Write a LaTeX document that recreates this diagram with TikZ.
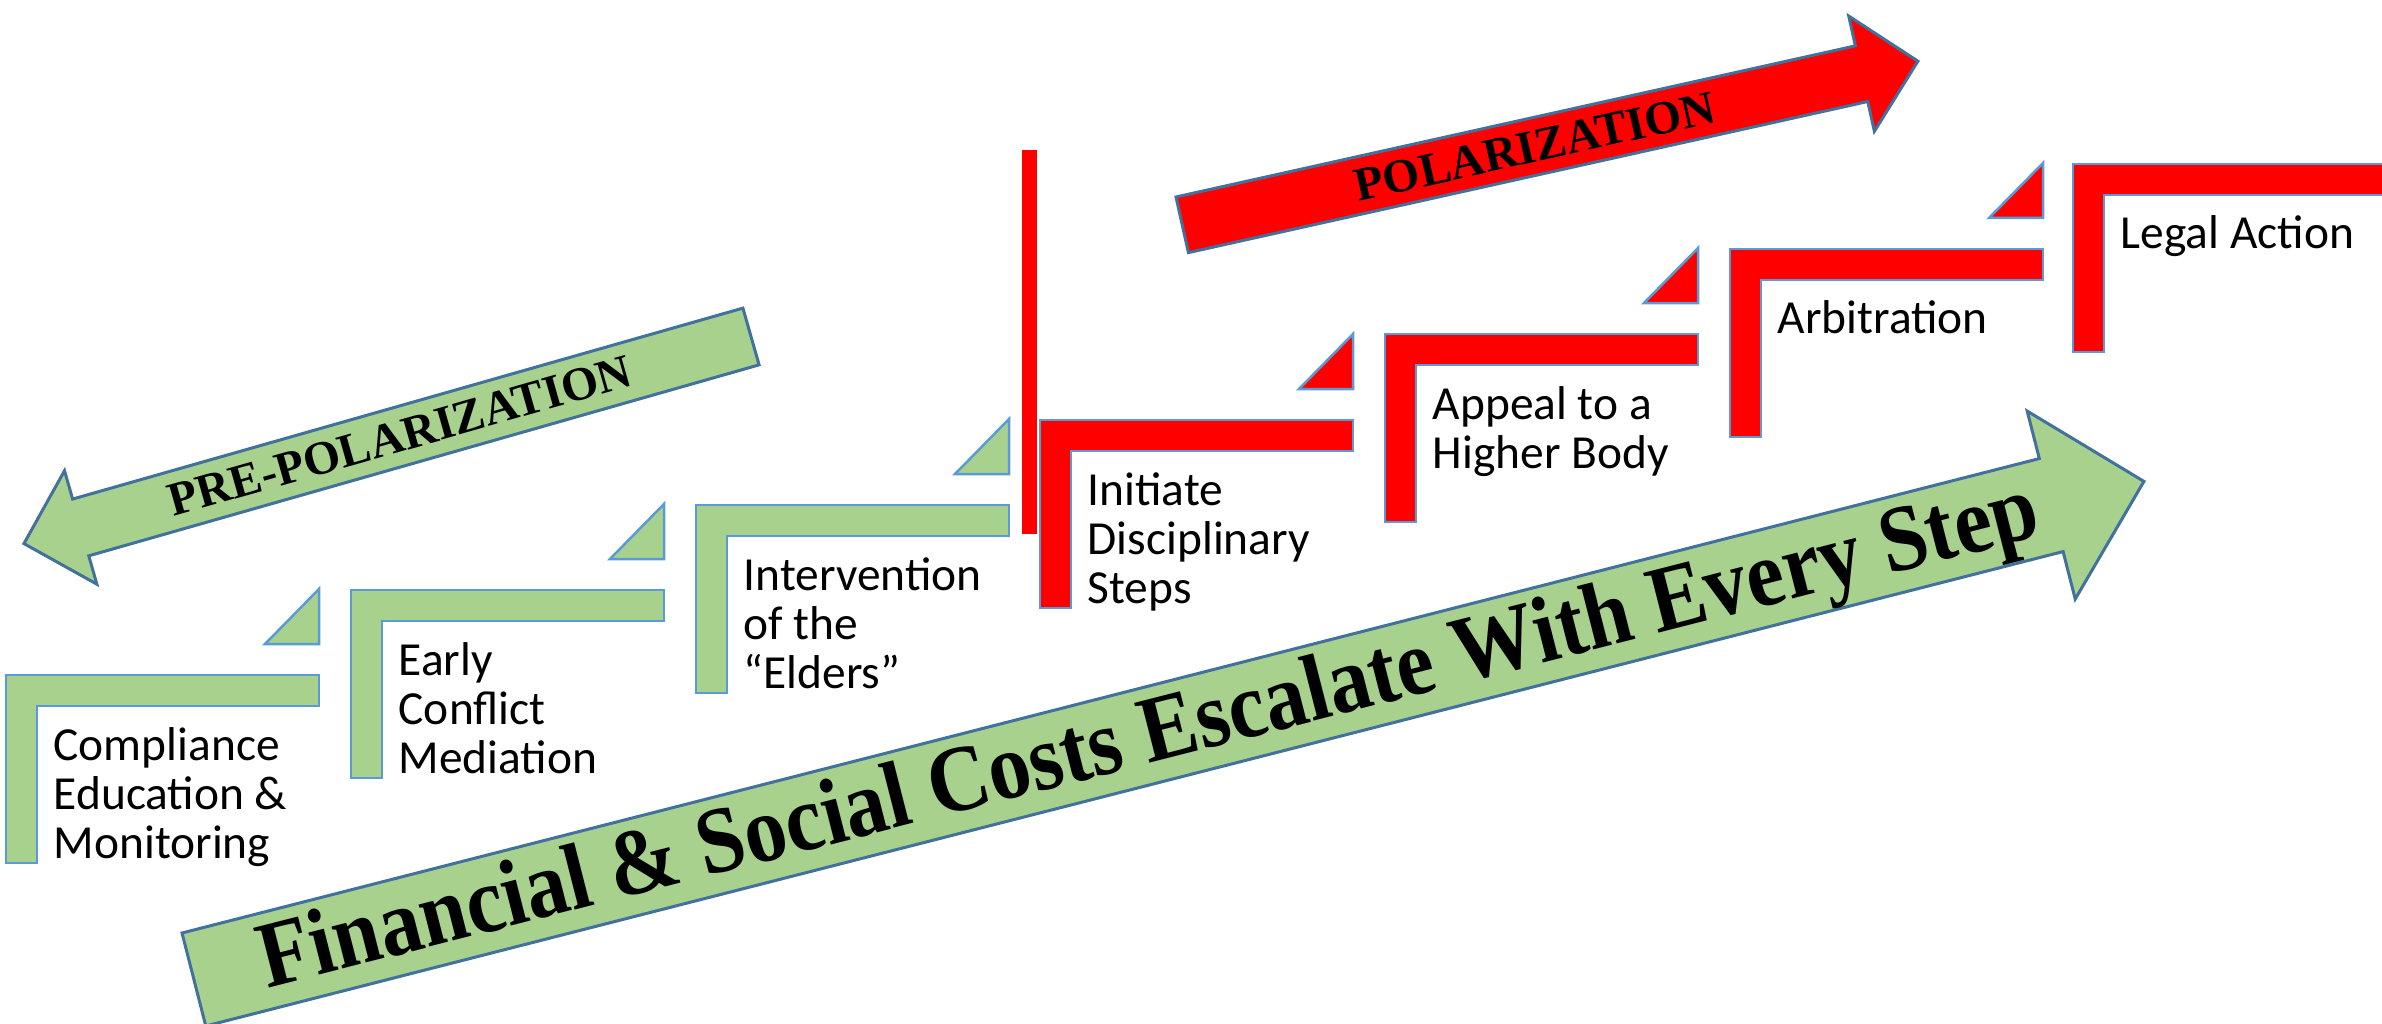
\documentclass[tikz,border=0pt]{standalone}
\usepackage{fontspec}
\setmainfont{Carlito}
\newfontfamily\bannerfont{Liberation Serif}
\newfontfamily\costfont[FakeStretch=0.9]{Liberation Serif}

\definecolor{stepgreen}{HTML}{A9D18E}
\definecolor{edgeblue}{HTML}{5B9BD5}
\definecolor{arrowblue}{HTML}{41719C}

\begin{document}
\begin{tikzpicture}[x=0.1mm, y=-0.1mm,
    greenstep/.style={fill=stepgreen, draw=edgeblue, line width=0.25mm},
    redstep/.style={fill=red, draw=edgeblue, line width=0.25mm},
    steptext/.style={anchor=base west, align=left, inner sep=0pt, font=\fontsize{13.5}{13.9}\selectfont},
    banner/.style={draw=arrowblue, line width=0.3mm},
    bannertext/.style={inner sep=0pt, font=\bannerfont\bfseries\fontsize{13.5}{15}\selectfont},
    costtext/.style={inner sep=0pt, font=\costfont\bfseries\fontsize{26.8}{30}\selectfont}]
    % Fix the canvas to the size of the slide
    \useasboundingbox (0,0) rectangle (2382,1024);

    % Define step parameters
    \def\stepw{313} % Width of a step
    \def\stepbar{31} % Thickness of the bars
    \def\steph{188} % Height of a step

    % Draw the pre-polarization steps (green)
    \draw[greenstep] (6,675) -- ++(\stepw,0) -- ++(0,\stepbar) -- ++(\stepbar-\stepw,0) -- ++(0,\steph-\stepbar) -- ++(-\stepbar,0) -- cycle;
    \draw[greenstep] (319,644) -- ++(-54,0) -- ++(54,-55) -- cycle;
    \draw[greenstep] (351,590) -- ++(\stepw,0) -- ++(0,\stepbar) -- ++(\stepbar-\stepw,0) -- ++(0,\steph-\stepbar) -- ++(-\stepbar,0) -- cycle;
    \draw[greenstep] (664,559) -- ++(-54,0) -- ++(54,-55) -- cycle;
    \draw[greenstep] (696,505) -- ++(\stepw,0) -- ++(0,\stepbar) -- ++(\stepbar-\stepw,0) -- ++(0,\steph-\stepbar) -- ++(-\stepbar,0) -- cycle;
    \draw[greenstep] (1009,474) -- ++(-54,0) -- ++(54,-55) -- cycle;

    % Draw the dividing bar
    \fill[red] (1022,150) rectangle (1037,534);

    % Draw the polarization steps (red)
    \draw[redstep] (1040,420) -- ++(\stepw,0) -- ++(0,\stepbar) -- ++(\stepbar-\stepw,0) -- ++(0,\steph-\stepbar) -- ++(-\stepbar,0) -- cycle;
    \draw[redstep] (1353,389) -- ++(-54,0) -- ++(54,-55) -- cycle;
    \draw[redstep] (1385,334) -- ++(\stepw,0) -- ++(0,\stepbar) -- ++(\stepbar-\stepw,0) -- ++(0,\steph-\stepbar) -- ++(-\stepbar,0) -- cycle;
    \draw[redstep] (1698,303) -- ++(-54,0) -- ++(54,-55) -- cycle;
    \draw[redstep] (1730,249) -- ++(\stepw,0) -- ++(0,\stepbar) -- ++(\stepbar-\stepw,0) -- ++(0,\steph-\stepbar) -- ++(-\stepbar,0) -- cycle;
    \draw[redstep] (2043,218) -- ++(-54,0) -- ++(54,-55) -- cycle;
    \draw[redstep] (2073,164) -- ++(330,0) -- ++(0,\stepbar) -- ++(\stepbar-330,0) -- ++(0,\steph-\stepbar) -- ++(-\stepbar,0) -- cycle;

    % Label the steps (anchored at the baseline of the last line)
    \node[steptext] (comply) at (53,858) {Compliance\\Education \&\\Monitoring};
    \node[steptext] (early) at (398,773) {Early\\Conflict\\Mediation};
    \node[steptext] (elders) at (743,688) {Intervention\\of the\\“Elders”};
    \node[steptext] (discipline) at (1087,603) {Initiate\\Disciplinary\\Steps};
    \node[steptext] (appeal) at (1432,468) {Appeal to a\\Higher Body};
    \node[steptext] (arbitration) at (1777,334) {Arbitration};
    \node[steptext] (legal) at (2120,249) {Legal Action};

    % Draw the pre-polarization arrow
    \begin{scope}[shift={(751,336.5)}, rotate=195.9]
        \draw[banner, fill=stepgreen] (0,-29.5) -- (697,-29.5) -- (697,-59) -- (756,0) -- (697,59) -- (697,29.5) -- (0,29.5) -- cycle;
    \end{scope}
    \node[bannertext, rotate=15.9] (prepol) at (400,436) {PRE-POLARIZATION};

    % Draw the polarization arrow
    \begin{scope}[shift={(1182.2,224.8)}, rotate=12.54]
        \draw[banner, fill=red] (0,-28.5) -- (696,-28.5) -- (696,-59) -- (753.7,0) -- (696,59) -- (696,28.5) -- (0,28.5) -- cycle;
    \end{scope}
    \node[bannertext, rotate=12.54] (pol) at (1535,146.5) {POLARIZATION};

    % Draw the cost arrow
    \begin{scope}[shift={(193.9,979.5)}, rotate=14.33]
        \draw[banner, fill=stepgreen] (0,-48) -- (1917,-48) -- (1917,-97) -- (2012.7,0) -- (1917,97) -- (1917,48) -- (0,48) -- cycle;
    \end{scope}
    \node[costtext, rotate=14.33] (costs) at (1150,740) {Financial \& Social Costs Escalate With Every Step};
\end{tikzpicture}
\end{document}
